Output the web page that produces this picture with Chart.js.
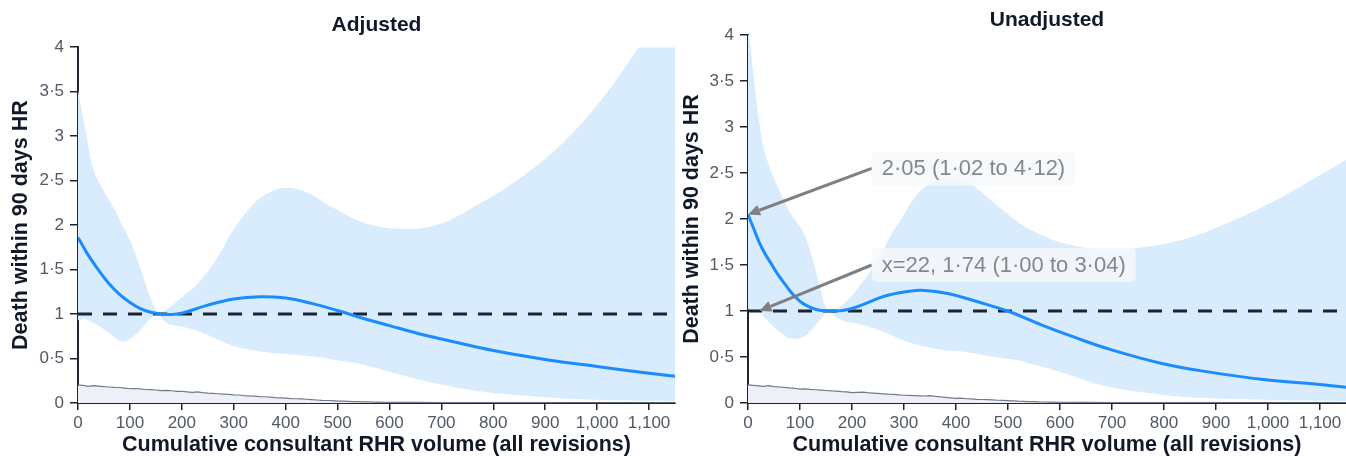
<!DOCTYPE html>
<html>
<head>
<meta charset="utf-8">
<title>Death within 90 days HR by cumulative consultant RHR volume</title>
<script src="https://cdn.jsdelivr.net/npm/chart.js@4.4.1/dist/chart.umd.min.js"></script>
<style>
    body { margin: 0; background: #fff; }
    .charts { display: flex; width: 1346px; height: 456px; }
    canvas { display: block; }
</style>
</head>
<body>
<div class="charts">
    <canvas id="adjusted-chart" width="680" height="456" style="width:680px;height:456px"></canvas>
    <canvas id="unadjusted-chart" width="666" height="456" style="width:666px;height:456px"></canvas>
</div>
<script>
const FONT = "'Liberation Sans', Arial, sans-serif";

// x-axis ticks (volume) and y-axis ticks (HR)
const xTickValues = [0, 100, 200, 300, 400, 500, 600, 700, 800, 900, 1000, 1100];
const yTickValues = [0, 0.5, 1, 1.5, 2, 2.5, 3, 3.5, 4];

// reference line HR = 1
const refX = [0, 1150];
const refY = [1, 1];

// ---- Adjusted ----
const adjMainX = [0, 20, 40, 60, 80, 100, 120, 140, 160, 180, 200, 250, 300, 350, 400, 450, 500, 550, 600, 650, 700, 800, 900, 1000, 1100, 1150];
const adjMainY = [1.86, 1.66, 1.49, 1.34, 1.22, 1.13, 1.06, 1.02, 1.0, 0.995, 1.01, 1.1, 1.17, 1.195, 1.18, 1.12, 1.04, 0.95, 0.87, 0.79, 0.72, 0.59, 0.49, 0.41, 0.335, 0.3];

const adjBandX = [0, 15, 30, 50, 70, 85, 100, 120, 140, 155, 170, 200, 235, 270, 300, 340, 370, 400, 440, 490, 550, 620, 690, 770, 850, 940, 1020, 1080, 1150];
const adjUpper = [3.52, 3.05, 2.62, 2.38, 2.18, 2.0, 1.83, 1.52, 1.18, 1.02, 1.05, 1.19, 1.37, 1.65, 1.95, 2.25, 2.37, 2.42, 2.37, 2.2, 2.03, 1.96, 2.0, 2.23, 2.52, 2.96, 3.5, 4.0, 4.6];
const adjLower = [0.93, 0.94, 0.9, 0.83, 0.74, 0.69, 0.72, 0.82, 0.95, 0.99, 0.9, 0.86, 0.8, 0.71, 0.64, 0.59, 0.565, 0.55, 0.53, 0.49, 0.43, 0.32, 0.22, 0.135, 0.088, 0.05, 0.03, 0.025, 0.02];

// ---- Unadjusted ----
const unadjMainX = [0, 12, 22, 33, 45, 57, 70, 82, 95, 106, 120, 135, 155, 188, 221, 262, 311, 335, 384, 442, 499, 564, 630, 698, 796, 894, 991, 1100, 1150];
const unadjMainY = [2.05, 1.88, 1.74, 1.62, 1.51, 1.4, 1.3, 1.21, 1.13, 1.08, 1.04, 1.01, 1.0, 1.01, 1.07, 1.16, 1.215, 1.225, 1.19, 1.1, 1.0, 0.85, 0.71, 0.58, 0.43, 0.33, 0.255, 0.2, 0.17];

const unadjBandX = [0, 16, 22, 33, 57, 82, 106, 123, 139, 154, 180, 213, 253, 278, 294, 327, 360, 388, 425, 474, 523, 548, 605, 687, 769, 850, 932, 1014, 1150];
const unadjUpper = [4.12, 3.29, 3.04, 2.71, 2.35, 2.06, 1.86, 1.59, 1.25, 1.01, 1.06, 1.26, 1.59, 1.86, 1.99, 2.28, 2.41, 2.44, 2.39, 2.17, 1.95, 1.87, 1.74, 1.67, 1.7, 1.8, 1.98, 2.2, 2.64];
const unadjLower = [1.02, 1.0, 1.0, 0.92, 0.79, 0.7, 0.72, 0.8, 0.91, 0.99, 0.9, 0.86, 0.79, 0.73, 0.69, 0.63, 0.59, 0.57, 0.55, 0.5, 0.46, 0.42, 0.33, 0.185, 0.11, 0.062, 0.045, 0.03, 0.02];

// annotations on the unadjusted panel
const unadjNoteLabels = ['2·05 (1·02 to 4·12)', 'x=22, 1·74 (1·00 to 3·04)'];
const unadjNoteX = [0, 22];
const unadjNoteY = [2.05, 1.0];

// volume distribution drawn along the bottom
const densityX = [
    0, 10, 20, 30, 40, 50, 60, 70, 80, 90, 100, 110, 120, 130, 140, 150, 160, 170, 180, 190, 200,
    210, 220, 230, 240, 250, 260, 270, 280, 290, 300, 310, 320, 330, 340, 350, 360, 370, 380, 390, 400,
    410, 420, 430, 440, 450, 460, 470, 480, 490, 500, 510, 520, 530, 540, 550, 560, 570, 580, 590, 600,
    650, 700, 750, 800, 850, 900, 950, 1000, 1050, 1100, 1150
];
const adjDensity = [
    0.2, 0.198, 0.188, 0.196, 0.19, 0.184, 0.18, 0.176, 0.174, 0.168, 0.16,
    0.163, 0.158, 0.152, 0.15, 0.146, 0.14, 0.142, 0.138, 0.13, 0.132,
    0.126, 0.12, 0.124, 0.116, 0.11, 0.108, 0.104, 0.1, 0.096, 0.092,
    0.09, 0.084, 0.08, 0.078, 0.072, 0.07, 0.066, 0.06, 0.058, 0.055,
    0.05, 0.048, 0.046, 0.042, 0.038, 0.034, 0.03, 0.028, 0.026, 0.022,
    0.02, 0.018, 0.016, 0.015, 0.013, 0.012, 0.01, 0.009, 0.008, 0.007,
    0.006, 0.005, 0.004, 0.003, 0.002, 0.002, 0.001, 0.001, 0.001, 0.001, 0.001
];
const unadjDensity = [
    0.196, 0.192, 0.186, 0.18, 0.188, 0.178, 0.174, 0.17, 0.164, 0.16, 0.15,
    0.154, 0.148, 0.144, 0.14, 0.136, 0.132, 0.13, 0.124, 0.12, 0.112,
    0.116, 0.118, 0.112, 0.108, 0.104, 0.1, 0.096, 0.094, 0.088, 0.084,
    0.082, 0.08, 0.078, 0.076, 0.08, 0.072, 0.066, 0.062, 0.056, 0.05,
    0.052, 0.046, 0.044, 0.04, 0.038, 0.036, 0.034, 0.03, 0.028, 0.026,
    0.024, 0.02, 0.018, 0.016, 0.015, 0.012, 0.011, 0.01, 0.009, 0.008,
    0.006, 0.005, 0.004, 0.003, 0.002, 0.002, 0.001, 0.001, 0.001, 0.001, 0.001
];

function toPoints(xs, ys) {
    return xs.map((x, i) => ({ x: x, y: ys[i] }));
}

// gray arrows with label boxes
const notesPlugin = {
    id: 'notes',
    afterDatasetsDraw(chart, args, opts) {
        if (!opts || !opts.labels) return;
        const { ctx } = chart;
        const xScale = chart.scales.x;
        const yScale = chart.scales.y;

        ctx.save();
        ctx.font = `22px ${FONT}`;
        opts.labels.forEach((text, i) => {
            const tipX = xScale.getPixelForValue(opts.pointX[i]);
            const tipY = yScale.getPixelForValue(opts.pointY[i]);
            const boxLeft = xScale.getPixelForValue(opts.boxX);
            const boxMid = yScale.getPixelForValue(opts.boxY[i]);
            const boxW = ctx.measureText(text).width + 20;
            const boxH = 34;

            // arrow line + head
            const angle = Math.atan2(tipY - boxMid, tipX - boxLeft);
            const headLen = 12;
            const baseX = tipX - headLen * Math.cos(angle);
            const baseY = tipY - headLen * Math.sin(angle);
            ctx.strokeStyle = '#7f8083';
            ctx.fillStyle = '#7f8083';
            ctx.lineWidth = 3;
            ctx.beginPath();
            ctx.moveTo(boxLeft, boxMid);
            ctx.lineTo(baseX, baseY);
            ctx.stroke();
            ctx.beginPath();
            ctx.moveTo(tipX, tipY);
            ctx.lineTo(baseX + 5.5 * Math.sin(angle), baseY - 5.5 * Math.cos(angle));
            ctx.lineTo(baseX - 5.5 * Math.sin(angle), baseY + 5.5 * Math.cos(angle));
            ctx.closePath();
            ctx.fill();

            // label box
            ctx.fillStyle = 'rgba(246, 248, 250, 0.85)';
            ctx.beginPath();
            ctx.roundRect(boxLeft, boxMid - boxH / 2, boxW, boxH, 5);
            ctx.fill();

            ctx.fillStyle = '#85878c';
            ctx.textBaseline = 'middle';
            ctx.textAlign = 'left';
            ctx.fillText(text, boxLeft + 10, boxMid + 1);
        });
        ctx.restore();
    }
};

function renderHazardChart(canvasId, config) {
    const canvas = document.querySelector(`#${canvasId}`);
    if (!canvas) return;

    const axisColor = '#1f2430';

    return new Chart(canvas, {
        type: 'line',
        data: {
            datasets: [
                {
                    label: 'HR',
                    data: toPoints(config.mainX, config.mainY),
                    borderColor: '#1a8cff',
                    borderWidth: 3,
                    pointRadius: 0,
                    tension: 0.4,
                    fill: false
                },
                {
                    label: 'HR = 1',
                    data: toPoints(refX, refY),
                    borderColor: '#1b2333',
                    borderWidth: 3,
                    borderDash: [14, 11],
                    pointRadius: 0,
                    fill: false
                },
                {
                    label: 'Volume distribution',
                    data: toPoints(densityX, config.density),
                    borderColor: '#737b8a',
                    borderWidth: 1.2,
                    backgroundColor: '#edf1f7',
                    pointRadius: 0,
                    tension: 0,
                    fill: 'origin'
                },
                {
                    label: '95% CI upper',
                    data: toPoints(config.bandX, config.upper),
                    borderColor: 'transparent',
                    borderWidth: 0,
                    backgroundColor: '#d8ecfd',
                    pointRadius: 0,
                    tension: 0.4,
                    fill: '+1'
                },
                {
                    label: '95% CI lower',
                    data: toPoints(config.bandX, config.lower),
                    borderColor: 'transparent',
                    borderWidth: 0,
                    pointRadius: 0,
                    tension: 0.4,
                    fill: false
                }
            ]
        },
        options: {
            responsive: false,
            animation: false,
            events: [],
            layout: {
                padding: { left: 0, right: config.padRight, top: 0, bottom: 0 }
            },
            scales: {
                x: {
                    type: 'linear',
                    min: 0,
                    max: 1150,
                    border: { color: axisColor, width: 2 },
                    grid: { drawOnChartArea: false, drawTicks: true, tickLength: 7, color: axisColor, lineWidth: 1.5 },
                    afterBuildTicks: function (scale) {
                        scale.ticks = xTickValues.map(v => ({ value: v }));
                    },
                    ticks: {
                        color: '#525866',
                        font: { family: FONT, size: 17 },
                        padding: 3,
                        maxRotation: 0,
                        autoSkip: false,
                        callback: function (value) {
                            return value.toLocaleString('en-US');
                        }
                    },
                    title: {
                        display: true,
                        text: 'Cumulative consultant RHR volume (all revisions)',
                        color: '#111827',
                        font: { family: FONT, size: 21.5, weight: 'bold', lineHeight: 1 },
                        padding: { top: 0, bottom: 0 }
                    },
                    afterFit: function (scale) {
                        scale.height = 53;
                    }
                },
                y: {
                    min: 0,
                    max: 4,
                    border: { color: axisColor, width: 2 },
                    grid: { drawOnChartArea: false, drawTicks: true, tickLength: 8, color: axisColor, lineWidth: 1.5 },
                    afterBuildTicks: function (scale) {
                        scale.ticks = yTickValues.map(v => ({ value: v }));
                    },
                    ticks: {
                        color: '#525866',
                        font: { family: FONT, size: 17 },
                        padding: 6,
                        callback: function (value) {
                            // middle dot decimal, as in the source figure
                            return String(value).replace('.', '·');
                        }
                    },
                    title: {
                        display: true,
                        text: 'Death within 90 days HR',
                        color: '#111827',
                        font: { family: FONT, size: 21.5, weight: 'bold', lineHeight: 1 },
                        padding: { top: config.yTitlePad, bottom: 0 }
                    },
                    afterFit: function (scale) {
                        scale.width = config.yAxisWidth;
                    }
                }
            },
            plugins: {
                legend: { display: false },
                tooltip: { enabled: false },
                title: {
                    display: true,
                    text: config.title,
                    fullSize: false,
                    color: '#111827',
                    font: { family: FONT, size: 21, weight: 'bold', lineHeight: 1.2 },
                    padding: config.titlePad
                },
                notes: config.notes || false
            }
        },
        plugins: [notesPlugin]
    });
}

renderHazardChart('adjusted-chart', {
    title: 'Adjusted',
    mainX: adjMainX,
    mainY: adjMainY,
    bandX: adjBandX,
    upper: adjUpper,
    lower: adjLower,
    density: adjDensity,
    padRight: 5,
    yAxisWidth: 78,
    yTitlePad: 10,
    titlePad: { top: 13, bottom: 9 }
});

renderHazardChart('unadjusted-chart', {
    title: 'Unadjusted',
    mainX: unadjMainX,
    mainY: unadjMainY,
    bandX: unadjBandX,
    upper: unadjUpper,
    lower: unadjLower,
    density: unadjDensity,
    padRight: 0,
    yAxisWidth: 68,
    yTitlePad: 1,
    titlePad: { top: 7.4, bottom: 2.4 },
    notes: {
        labels: unadjNoteLabels,
        pointX: unadjNoteX,
        pointY: unadjNoteY,
        boxX: 238,
        boxY: [2.55, 1.5]
    }
});
</script>
</body>
</html>
